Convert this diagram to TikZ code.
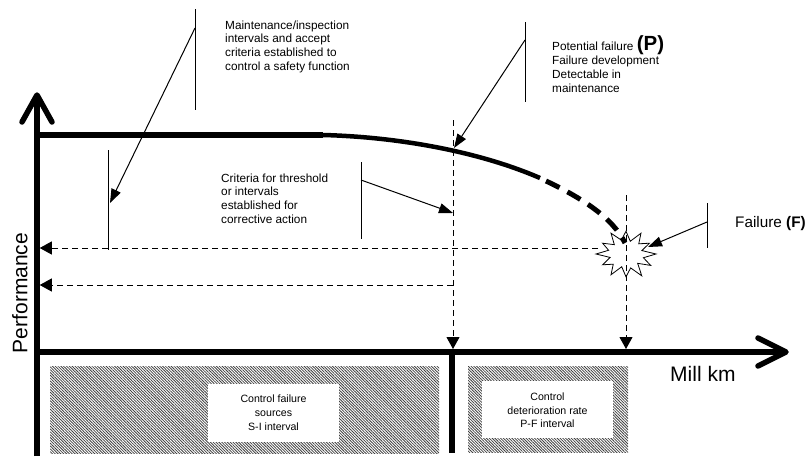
\documentclass[tikz,border=0pt]{standalone}
\usepackage{fontspec}
\setmainfont{Liberation Sans}
\usetikzlibrary{arrows.meta,patterns.meta}
\begin{document}
\begin{tikzpicture}[x=1pt,y=-1pt,
  axis/.style={line width=5.5pt},
  chev/.style={line width=5.5pt, line cap=round, line join=round},
  guide/.style={line width=0.9pt, dash pattern=on 6pt off 4pt},
  guidearrow/.style={guide, -{Triangle[length=12pt,width=13pt]}},
  callout/.style={line width=1pt},
  calloutarrow/.style={line width=1pt, -{Triangle[length=14pt,width=10pt]}},
  lbl/.style={inner sep=0pt, align=left, font=\fontsize{11.8}{13.6}\selectfont},
  boxlbl/.style={inner sep=0pt, align=center, font=\fontsize{10.6}{13.8}\selectfont},
  hatch/.style={pattern={Lines[angle=-45,distance=2pt,line width=0.8pt]}, pattern color=black!75, inner sep=0pt},
  whitebox/.style={fill=white, inner sep=0pt},
  burst/.style={draw, fill=white, line width=0.8pt, line join=miter},
]
\useasboundingbox (0,0) rectangle (809,458);

% hatched areas
\node[hatch, minimum width=389pt, minimum height=87pt] (h1) at (244.5,409.5) {};
\node[whitebox, minimum width=131pt, minimum height=58pt] (w1) at (273.5,413) {};
\node[boxlbl, anchor=north] (b1) at (273.5,395) {Control failure\\sources\\S-I interval};
\node[hatch, minimum width=160pt, minimum height=86pt] (h2) at (548,409) {};
\node[whitebox, minimum width=131pt, minimum height=57pt] (w2) at (547.5,409.5) {};
\node[boxlbl, anchor=north] (b2) at (547.5,392.5) {Control\\deterioration rate\\P-F interval};

% coordinates
\coordinate (ybot) at (37,456);
\coordinate (ytop) at (37,97);
\coordinate (yw1) at (22,122);
\coordinate (ytip) at (37,95);
\coordinate (yw2) at (52,122);
\coordinate (xstart) at (34.25,352);
\coordinate (xend) at (785,352);
\coordinate (xw1) at (758,338);
\coordinate (xtip) at (786,352);
\coordinate (xw2) at (758,366);
\coordinate (sepTop) at (452,352);
\coordinate (sepBot) at (452,453);
\coordinate (flat0) at (34.25,135);
\coordinate (c0) at (323,135);
\coordinate (c1) at (540,178);
\coordinate (c2) at (546,181);
\coordinate (c3) at (625,243);

% performance curve
\draw[axis] (flat0) -- (c0);
\draw[line width=4.5pt] (c0) .. controls (400,137) and (480,152) .. (c1);

% failure starburst
\coordinate (F) at (626,254);
\draw[burst] ({626+30},254)
  \foreach \a/\r in {15/0.6,30/0.95,45/0.55,60/1.05,75/0.6,90/0.95,105/0.55,120/1.0,135/0.6,150/0.9,165/0.55,180/1.0,195/0.6,210/0.9,225/0.55,240/1.0,255/0.6,270/0.95,285/0.55,300/1.0,315/0.6,330/0.9,345/0.55}
  { -- ({626+\r*30*cos(\a)},{254+\r*24*sin(\a)}) } -- cycle;

% guide lines
\coordinate (pTop) at (453,120);
\coordinate (pAx) at (453,349);
\coordinate (fTop) at (626,195);
\coordinate (fAx) at (626,349);
\coordinate (fLeft) at (598,248);
\coordinate (yF) at (39.75,248);
\coordinate (pMid) at (453,285);
\coordinate (yP) at (39.75,285);
\draw[guidearrow] (pTop) -- (pAx);
\draw[guidearrow] (fTop) -- (fAx);
\draw[guidearrow] (fLeft) -- (yF);
\draw[guidearrow] (pMid) -- (yP);

\draw[line width=5pt, dash pattern=on 15pt off 9pt] (c2) .. controls (582,198) and (613,218) .. (c3);

% axes
\draw[axis] (ybot) -- (ytop);
\draw[chev] (yw1) -- (ytip) -- (yw2);
\draw[axis] (xstart) -- (xend);
\draw[chev] (xw1) -- (xtip) -- (xw2);
\draw[axis] (sepTop) -- (sepBot);

% callouts
\coordinate (m1a) at (195,9);   \coordinate (m1b) at (195,110);
\coordinate (a1s) at (195,28);  \coordinate (a1e) at (110,203);
\coordinate (m2a) at (108,150); \coordinate (m2b) at (108,250);
\coordinate (m3a) at (525,22);  \coordinate (m3b) at (525,102);
\coordinate (a3s) at (525,40);  \coordinate (a3e) at (454,148);
\coordinate (m4a) at (361,162); \coordinate (m4b) at (361,239);
\coordinate (a4s) at (361,180); \coordinate (a4e) at (453,213);
\coordinate (m5a) at (707,203); \coordinate (m5b) at (707,248);
\coordinate (a5s) at (707,222); \coordinate (a5e) at (648,247);
\draw[callout] (m1a) -- (m1b);
\draw[calloutarrow] (a1s) -- (a1e);
\draw[callout] (m2a) -- (m2b);
\draw[callout] (m3a) -- (m3b);
\draw[calloutarrow] (a3s) -- (a3e);
\draw[callout] (m4a) -- (m4b);
\draw[calloutarrow] (a4s) -- (a4e);
\draw[callout] (m5a) -- (m5b);
\draw[calloutarrow] (a5s) -- (a5e);

% texts
\node[lbl, anchor=north west] (t1) at (225,20.5) {Maintenance/inspection\\intervals and accept\\criteria established to\\control a safety function};
\node[lbl, anchor=north west, font=\fontsize{11.8}{14}\selectfont] (t2) at (552,35) {Potential failure {\fontsize{20.5}{20}\selectfont\bfseries (P)}\\Failure development\\Detectable in\\maintenance};
\node[lbl, anchor=north west] (t3) at (221,173.5) {Criteria for threshold\\or intervals\\established for\\corrective action};
\node[anchor=base west, inner sep=0pt, font=\fontsize{15.3}{18}\selectfont] (t4) at (735,227) {Failure \textbf{(F)}};
\node[rotate=90, inner sep=0pt, font=\fontsize{21}{24}\selectfont] (ylab) at (20,293) {Performance};
\node[anchor=base west, inner sep=0pt, font=\fontsize{21}{24}\selectfont] (xlab) at (670,381) {Mill km};
\end{tikzpicture}
\end{document}
